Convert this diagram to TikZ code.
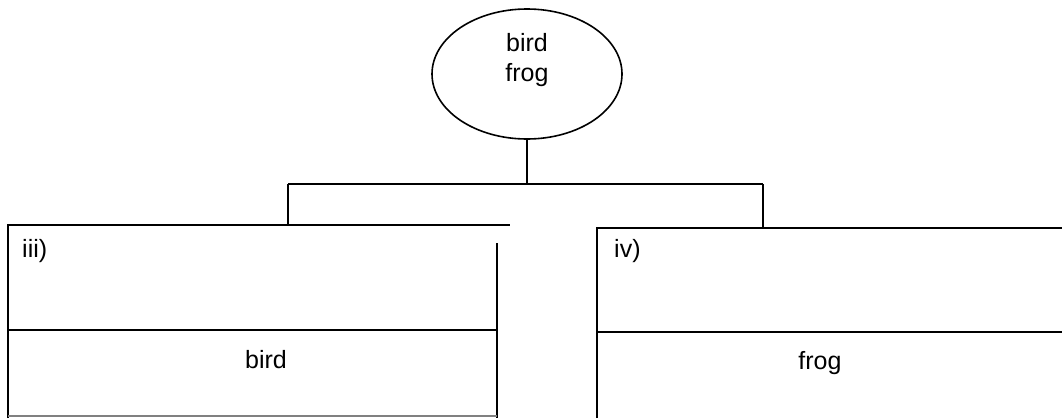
\documentclass[tikz,border=0pt]{standalone}
\usepackage{fontspec}
\setmainfont{Liberation Sans}
\usetikzlibrary{shapes.geometric}
\tikzset{
  lbl/.style={font=\fontsize{25}{30}\selectfont, inner sep=0pt},
  ln/.style={line width=1.6pt, black},
}
\begin{document}
\begin{tikzpicture}[x=1pt,y=-1pt]
\useasboundingbox (0,0) rectangle (1062,418);
% root ellipse
\node[ellipse, draw, ln, minimum width=190pt, minimum height=130pt, inner sep=0pt] (root) at (527,74) {};
\node[lbl, align=center] (rootlabel) at (527,60) {bird\\frog};
% connectors
\coordinate (j) at (527,184);
\coordinate (jl) at (288,184);
\coordinate (jr) at (763,184);
\coordinate (lt) at (288,225);
\coordinate (rt) at (763,228);
\draw[ln] (root.south) -- (j);
\draw[ln] (jl) -- (jr);
\draw[ln] (jl) -- (lt);
\draw[ln] (jr) -- (rt);
% left box
\coordinate (L1) at (8,418);
\coordinate (L2) at (8,225);
\coordinate (L3) at (510,225);
\coordinate (L4) at (497,243);
\coordinate (L5) at (497,418);
\coordinate (B1) at (8,416);
\coordinate (B2) at (497,416);
\draw[ln] (L1) -- (L2) -- (L3);
\draw[ln] (L4) -- (L5);
\draw[ln] (8,330) -- (497,330);
\draw[line width=1.2pt, black!50] (B1) -- (B2);
% right box
\coordinate (R1) at (597,418);
\coordinate (R2) at (597,228);
\coordinate (R3) at (1062,228);
\draw[ln] (R1) -- (R2) -- (R3);
\draw[ln] (597,332) -- (1062,332);
% labels
\node[lbl, anchor=north west] (iii) at (22,239) {iii)};
\node[lbl] (bird) at (266,360) {bird};
\node[lbl, anchor=north west] (iv) at (614,239) {iv)};
\node[lbl] (frog) at (820,363) {frog};
\end{tikzpicture}
\end{document}
